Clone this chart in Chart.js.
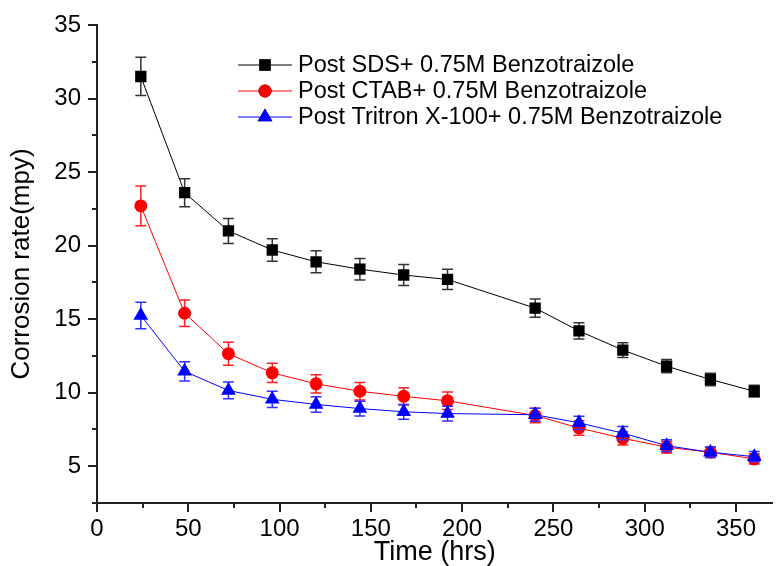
<!DOCTYPE html>
<html>
<head>
<meta charset="utf-8">
<script src="https://cdn.jsdelivr.net/npm/chart.js@4/dist/chart.umd.min.js"></script>
<style>
  html, body { margin: 0; padding: 0; background: #fff; }
  #wrap { width: 781px; height: 566px; }
</style>
</head>
<body>
<div id="wrap"><canvas id="rate-chart" width="781" height="566"></canvas></div>
<script>
// --- data ---
const hours = [24, 48, 72, 96, 120, 144, 168, 192, 240, 264, 288, 312, 336, 360];
const sdsRate = [31.5, 23.6, 21.0, 19.7, 18.9, 18.4, 18.0, 17.7, 15.75, 14.2, 12.9, 11.8, 10.9, 10.1];
const sdsErr = [1.3, 0.95, 0.85, 0.77, 0.75, 0.73, 0.71, 0.69, 0.62, 0.55, 0.5, 0.45, 0.42, 0.4];
const ctabRate = [22.7, 15.4, 12.65, 11.35, 10.6, 10.1, 9.75, 9.45, 8.45, 7.6, 6.9, 6.3, 5.95, 5.5];
const ctabErr = [1.35, 0.9, 0.78, 0.66, 0.62, 0.6, 0.59, 0.6, 0.5, 0.5, 0.45, 0.4, 0.35, 0.35];
const tritonRate = [15.25, 11.45, 10.15, 9.55, 9.2, 8.92, 8.7, 8.58, 8.5, 7.95, 7.25, 6.4, 5.95, 5.65];
const tritonErr = [0.9, 0.65, 0.57, 0.55, 0.53, 0.5, 0.5, 0.5, 0.45, 0.45, 0.45, 0.4, 0.35, 0.35];

const seriesLabels = ['Post SDS+ 0.75M Benzotraizole', 'Post CTAB+ 0.75M Benzotraizole', 'Post Tritron X-100+ 0.75M Benzotraizole'];
const xTickValues = [0, 50, 100, 150, 200, 250, 300, 350];
const yTickValues = [5, 10, 15, 20, 25, 30, 35];

const FONT = '"Liberation Sans", Arial, sans-serif';

const toPoints = (ys) => hours.map((h, i) => ({ x: h, y: ys[i] }));

// error bars, drawn under each dataset's markers
const errorBars = {
    id: 'errorBars',
    beforeDatasetDraw(chart, args) {
        const ds = chart.data.datasets[args.index];
        if (!ds.errors) return;
        const { ctx, scales: { x, y } } = chart;
        ctx.save();
        ctx.strokeStyle = ds.errorColor;
        ctx.lineWidth = 1.5;
        ds.data.forEach((p, i) => {
            const px = x.getPixelForValue(p.x);
            const top = y.getPixelForValue(p.y + ds.errors[i]);
            const bot = y.getPixelForValue(p.y - ds.errors[i]);
            ctx.beginPath();
            ctx.moveTo(px, top); ctx.lineTo(px, bot);
            ctx.moveTo(px - 5.5, top); ctx.lineTo(px + 5.5, top);
            ctx.moveTo(px - 5.5, bot); ctx.lineTo(px + 5.5, bot);
            ctx.stroke();
        });
        ctx.restore();
    }
};

// outward major / minor tick marks
const tickMarks = {
    id: 'tickMarks',
    afterDraw(chart) {
        const { ctx, chartArea, scales: { x, y } } = chart;
        ctx.save();
        ctx.strokeStyle = '#222';
        ctx.lineWidth = 2;
        ctx.beginPath();
        for (let v = 0; v <= x.max; v += 25) {
            const px = Math.round(x.getPixelForValue(v));
            const len = v % 50 === 0 ? 9 : 5;
            ctx.moveTo(px, chartArea.bottom); ctx.lineTo(px, chartArea.bottom + len);
        }
        for (let v = 2.5; v <= y.max + 0.01; v += 2.5) {
            const py = Math.round(y.getPixelForValue(v));
            const len = v % 5 === 0 ? 9 : 5;
            ctx.moveTo(chartArea.left, py); ctx.lineTo(chartArea.left - len, py);
        }
        ctx.stroke();
        ctx.restore();
    }
};

// legend sitting inside the plot
const insideLegend = {
    id: 'insideLegend',
    afterDraw(chart) {
        const { ctx } = chart;
        const x0 = 238, x1 = 292, tx = 298, rows = [65, 91, 117];
        ctx.save();
        chart.data.datasets.forEach((ds, i) => {
            const yy = rows[i];
            ctx.strokeStyle = ds.borderColor;
            ctx.lineWidth = 1;
            ctx.beginPath(); ctx.moveTo(x0, yy); ctx.lineTo(x1, yy); ctx.stroke();
            Chart.helpers.drawPoint(ctx, {
                pointStyle: ds.pointStyle, radius: ds.pointRadius, borderWidth: 0
            }, (x0 + x1) / 2, yy);
            ctx.fillStyle = ds.backgroundColor;
            ctx.fill();
            ctx.fillStyle = '#000';
            ctx.font = '23.5px ' + FONT;
            ctx.textBaseline = 'middle';
            ctx.fillText(ds.label, tx, yy + 1);
        });
        ctx.restore();
    }
};

const ctx = document.getElementById('rate-chart').getContext('2d');
new Chart(ctx, {
    type: 'scatter',
    data: {
        datasets: [
            {
                label: seriesLabels[0], data: toPoints(sdsRate), errors: sdsErr, errorColor: '#333',
                borderColor: '#000', backgroundColor: '#000', pointStyle: 'rect', pointRadius: 8, order: 3
            },
            {
                label: seriesLabels[1], data: toPoints(ctabRate), errors: ctabErr, errorColor: '#ff2020',
                borderColor: '#ff0000', backgroundColor: '#ff0000', pointStyle: 'circle', pointRadius: 6.5, order: 2
            },
            {
                label: seriesLabels[2], data: toPoints(tritonRate), errors: tritonErr, errorColor: '#3030ff',
                borderColor: '#0000ff', backgroundColor: '#0000ff', pointStyle: 'triangle', pointRadius: 8.5, order: 1
            }
        ].map(ds => Object.assign(ds, { showLine: true, borderWidth: 1, pointBorderWidth: 0, pointBackgroundColor: ds.backgroundColor }))
    },
    options: {
        responsive: false,
        animation: false,
        layout: { padding: { top: 25, right: 0, left: 0, bottom: 0 } },
        plugins: { legend: { display: false }, tooltip: { enabled: false } },
        scales: {
            x: {
                type: 'linear', min: 0, max: 370,
                afterBuildTicks: (s) => { s.ticks = xTickValues.map(v => ({ value: v })); },
                afterFit: (s) => { s.height = 63; s.paddingRight = 0; s.paddingLeft = 0; },
                grid: { display: false, drawTicks: false },
                border: { display: true, color: '#222', width: 2 },
                ticks: { color: '#000', padding: 12, maxRotation: 0, font: { family: FONT, size: 24 } },
                title: { display: true, text: 'Time (hrs)', color: '#000', padding: { top: 0, bottom: 0 }, font: { family: FONT, size: 27, lineHeight: 1 } }
            },
            y: {
                type: 'linear', min: 2.5, max: 35,
                afterBuildTicks: (s) => { s.ticks = yTickValues.map(v => ({ value: v })); },
                afterFit: (s) => { s.width = 97; s.paddingTop = 0; s.paddingBottom = 0; },
                grid: { display: false, drawTicks: false },
                border: { display: true, color: '#222', width: 2 },
                ticks: { color: '#000', padding: 16, font: { family: FONT, size: 24 } },
                title: { display: true, text: 'Corrosion rate(mpy)', color: '#000', padding: { top: 6, bottom: 0 }, font: { family: FONT, size: 26, lineHeight: 1.2 } }
            }
        }
    },
    plugins: [errorBars, tickMarks, insideLegend]
});
</script>
</body>
</html>
